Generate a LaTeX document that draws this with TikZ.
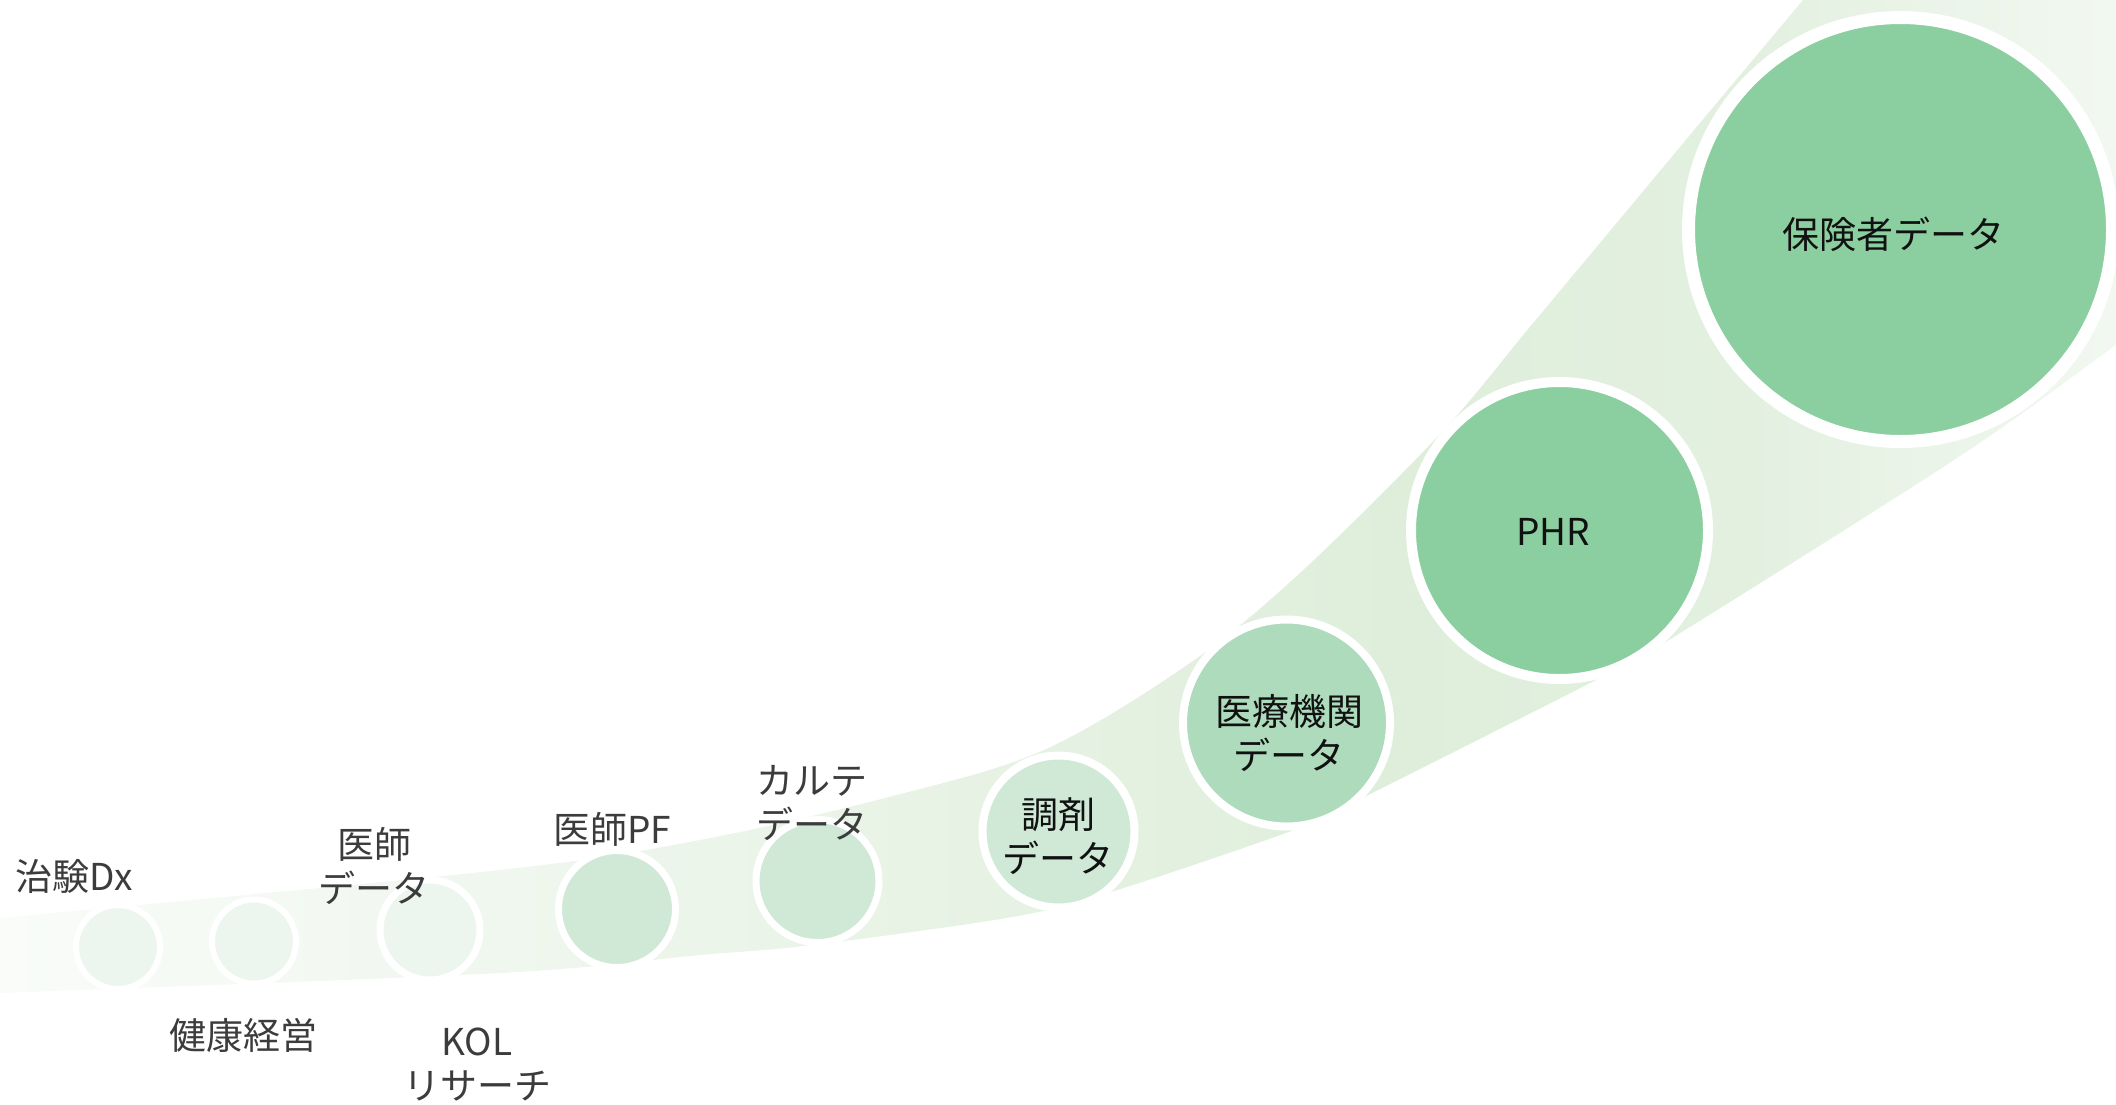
\documentclass[tikz,border=0pt]{standalone}
\usepackage{fontspec}
\setmainfont{Noto Sans CJK JP}
\usetikzlibrary{calc}
\definecolor{bandA}{HTML}{F9FCF9}
\definecolor{bandB}{HTML}{ECF5EA}
\definecolor{bandC}{HTML}{DFEEDB}
\definecolor{bandD}{HTML}{E3F0E0}
\definecolor{bandE}{HTML}{F2F8F1}
\definecolor{fillA}{HTML}{ECF6EE}
\definecolor{fillB}{HTML}{CFE9D6}
\definecolor{fillC}{HTML}{ADDBBC}
\definecolor{fillD}{HTML}{8BCFA0}
\definecolor{lblgray}{HTML}{3C3C3C}
\definecolor{inblack}{HTML}{111111}
\pgfdeclarehorizontalshading{bandshade}{100bp}{color(0bp)=(bandA); color(25bp)=(bandA); color(41.5bp)=(bandB); color(58bp)=(bandC); color(66.4bp)=(bandD); color(75bp)=(bandE); color(100bp)=(bandE)}
\tikzset{
  dot/.style={circle, draw=white, inner sep=0pt, align=center, text=inblack,
    font=\fontsize{37}{45}\selectfont},
  lbl/.style={inner sep=0pt, align=center, text=lblgray,
    font=\fontsize{37}{44}\selectfont},
}
\begin{document}
\begin{tikzpicture}[x=1pt, y=-1pt]
\useasboundingbox (0,0) rectangle (2116,1104);
\clip (0,0) rectangle (2116,1104);
\fill[white] (0,0) rectangle (2116,1104);
% band
\begin{scope}
\clip plot[smooth, tension=0.55] coordinates {(-30,921) (0,918) (500,870) (700,840) (889,797) (1044,750) (1190,663) (1300,573) (1441,433) (1529,328) (1620,219) (1710,111) (1803,0) (1850,-57)}
  -- (2250,-60) -- (2250,290)
  -- plot[smooth, tension=0.55] coordinates {(2180,302) (2116,345) (1960,456) (1664,643) (1602,677) (1352,803) (1294,830) (1111,892) (1012,917) (812,945) (700,955) (500,973) (0,993) (-30,994)}
  -- cycle;
\shade[shading=bandshade] (0,0) rectangle (2116,1104);
\end{scope}
% circles
\node[dot, fill=fillA, line width=6pt, minimum size=84pt] (c1) at (118,947) {};
\node[dot, fill=fillA, line width=6pt, minimum size=84pt] (c2) at (254,941.5) {};
\node[dot, fill=fillA, line width=7pt, minimum size=100pt] (c3) at (430,930) {};
\node[dot, fill=fillB, line width=7pt, minimum size=117pt] (c4) at (617,909) {};
\node[dot, fill=fillB, line width=7pt, minimum size=123pt] (c5) at (817.5,881) {};
\node[dot, fill=fillB, line width=8pt, minimum size=152pt] (c6) at (1058.5,831.5) {};
\node[dot, fill=fillC, line width=8pt, minimum size=207pt] (c7) at (1286.5,723) {};
\node[dot, fill=fillD, line width=10pt, minimum size=297pt] (c8) at (1559.5,530.5) {};
\node[dot, fill=fillD, line width=13pt, minimum size=424pt] (c9) at (1900.5,229.5) {};
% texts inside circles
\node[lbl, text=inblack] (t6) at (1058,836) {調剤\\データ};
\node[lbl, text=inblack] (t7) at (1289,733) {医療機関\\データ};
\node[lbl, text=inblack] (t8) at (1553,532) {PHR};
\node[lbl, text=inblack] (t9) at (1893,234) {保険者データ};
% outer labels
\node[lbl] (l1) at (74,876) {治験Dx};
\node[lbl] (l2) at (243,1035) {健康経営};
\node[lbl] (l3) at (374,866) {医師\\データ};
\node[lbl] (l4) at (612,829) {医師PF};
\node[lbl] (l5) at (477,1065) {KOL\\リサーチ};
\node[lbl] (l6) at (812,803) {カルテ\\データ};
\end{tikzpicture}
\end{document}
